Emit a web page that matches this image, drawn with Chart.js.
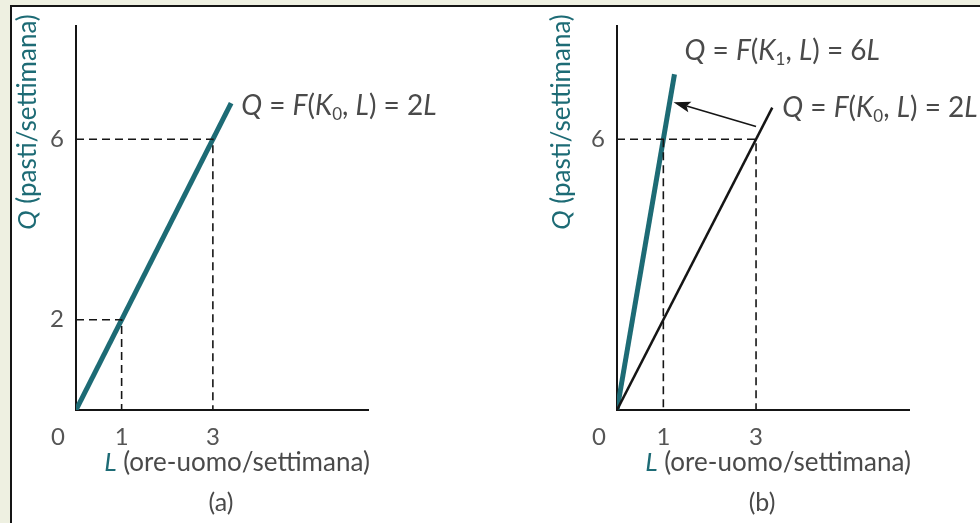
<!DOCTYPE html>
<html lang="it">
<head>
<meta charset="UTF-8">
<title>Funzione di produzione di breve periodo</title>
<script src="https://cdn.jsdelivr.net/npm/chart.js"></script>
<style>
  html, body { margin: 0; padding: 0; }
  body {
    width: 980px; height: 523px; overflow: hidden;
    background: #eef0e1; position: relative;
    font-family: Lato, sans-serif;
  }
  .frame {
    position: absolute; left: 10px; top: 5px;
    width: 1000px; height: 560px;
    background: #fff; border: 2px solid #151515;
  }
  .panel { position: absolute; top: 0; width: 490px; height: 523px; }
  #panelA { left: 0; }
  #panelB { left: 541px; }
</style>
</head>
<body>
<div class="frame"></div>
<div class="panel" id="panelA"><canvas id="chartA"></canvas></div>
<div class="panel" id="panelB"><canvas id="chartB"></canvas></div>

<script>
// --- dati ---
const xTicks = [1, 3];
const yTicksA = [2, 6];
const yTicksB = [6];

// pannello (a): Q = 2L
const curveA = [[0, 0], [3.4, 6.8]];
const dashA6 = [[0, 6], [3, 6], [3, 0]];
const dashA2 = [[0, 2], [1, 2], [1, 0]];

// pannello (b): Q = 6L e Q = 2L
const curveB1 = [[0, 0], [1.24, 7.44]];
const curveB0 = [[0, 0], [3.35, 6.7]];
const dashB6 = [[0, 6], [3, 6], [3, 0]];
const dashB1 = [[1, 6], [1, 0]];
const arrowB = [[3.0, 6.28], [1.22, 6.82]];

const TEAL = '#1d6b75';
const INK = '#151515';
const GRAY = '#4a4a4a';

function pts(arr) { return arr.map(p => ({ x: p[0], y: p[1] })); }

// testo con corsivi e pedici
function drawRich(ctx, x, y, parts, size, align) {
  const fontOf = p => (p.i ? 'italic ' : '') + (p.sub ? Math.round(size * 0.62) : size) + 'px Lato, sans-serif';
  let total = 0;
  parts.forEach(p => { ctx.font = fontOf(p); p.w = ctx.measureText(p.t).width; total += p.w; });
  let cx = align === 'center' ? x - total / 2 : align === 'right' ? x - total : x;
  ctx.textAlign = 'left';
  ctx.textBaseline = 'middle';
  parts.forEach(p => {
    ctx.font = fontOf(p);
    ctx.fillStyle = p.c || GRAY;
    ctx.fillText(p.t, cx, y + (p.sub ? size * 0.3 : 0));
    cx += p.w;
  });
}

function eq(k, n) {
  return [
    { t: 'Q', i: true }, { t: ' = ' }, { t: 'F', i: true }, { t: '(' },
    { t: 'K', i: true }, { t: k, sub: true }, { t: ', ' }, { t: 'L', i: true },
    { t: ') = ' + n }, { t: 'L', i: true }
  ];
}

function textPlugin(opts) {
  return {
    id: 'testi',
    afterDraw(chart) {
      const ctx = chart.ctx;
      const xs = chart.scales.x, ys = chart.scales.y;
      const a = chart.chartArea;
      ctx.save();
      // titolo asse y
      ctx.save();
      ctx.translate(a.left - opts.yTitleDx, 122);
      ctx.rotate(-Math.PI / 2);
      drawRich(ctx, 0, 0, [{ t: 'Q', i: true, c: TEAL }, { t: ' (pasti/settimana)', c: TEAL }], 26, 'center');
      ctx.restore();
      // "0" all'origine
      drawRich(ctx, a.left - 18, a.bottom + 27, [{ t: '0', c: '#555' }], 24, 'center');
      // titolo asse x
      const mid = (a.left + a.right) / 2;
      drawRich(ctx, mid + 15, a.bottom + 53,
        [{ t: 'L', i: true, c: TEAL }, { t: ' (ore-uomo/settimana)', c: GRAY }], 26, 'center');
      drawRich(ctx, mid - 1, a.bottom + 93, [{ t: opts.tag, c: GRAY }], 25, 'center');
      // etichette delle curve
      opts.labels.forEach(l => {
        const px = xs.getPixelForValue(l.at[0]) + l.dx;
        const py = ys.getPixelForValue(l.at[1]) + l.dy;
        drawRich(ctx, px, py, l.parts, 28, 'left');
      });
      // freccia
      if (opts.arrow) {
        const x0 = xs.getPixelForValue(opts.arrow[0][0]), y0 = ys.getPixelForValue(opts.arrow[0][1]);
        const x1 = xs.getPixelForValue(opts.arrow[1][0]), y1 = ys.getPixelForValue(opts.arrow[1][1]);
        const ang = Math.atan2(y1 - y0, x1 - x0);
        const hl = 17, hw = 5.5;
        ctx.strokeStyle = INK; ctx.fillStyle = INK; ctx.lineWidth = 1.6;
        ctx.beginPath();
        ctx.moveTo(x0, y0);
        ctx.lineTo(x1 - Math.cos(ang) * hl * 0.8, y1 - Math.sin(ang) * hl * 0.8);
        ctx.stroke();
        ctx.beginPath();
        ctx.moveTo(x1, y1);
        ctx.lineTo(x1 - Math.cos(ang) * hl - Math.sin(ang) * hw, y1 - Math.sin(ang) * hl + Math.cos(ang) * hw);
        ctx.lineTo(x1 - Math.cos(ang) * hl * 0.8, y1 - Math.sin(ang) * hl * 0.8);
        ctx.lineTo(x1 - Math.cos(ang) * hl + Math.sin(ang) * hw, y1 - Math.sin(ang) * hl - Math.cos(ang) * hw);
        ctx.closePath();
        ctx.fill();
      }
      ctx.restore();
    }
  };
}

function dashed(arr) {
  return { data: pts(arr), borderColor: INK, borderWidth: 1.6, borderDash: [8, 5], showLine: true, pointRadius: 0, borderCapStyle: 'butt' };
}
function curve(arr, color, w) {
  return { data: pts(arr), borderColor: color, borderWidth: w, showLine: true, pointRadius: 0, borderCapStyle: 'butt' };
}

function makeChart(id, datasets, xMax, yTicks, opts) {
  const tickFont = { family: 'Lato', size: 24 };
  return new Chart(document.getElementById(id), {
    type: 'scatter',
    data: { datasets: datasets },
    options: {
      responsive: true,
      maintainAspectRatio: false,
      animation: false,
      events: [],
      layout: { padding: { top: 18, right: 122, left: 0, bottom: 0 } },
      plugins: { legend: { display: false }, tooltip: { enabled: false } },
      elements: { line: { tension: 0 } },
      scales: {
        x: {
          type: 'linear', min: 0, max: xMax,
          grid: { display: false, drawTicks: false },
          border: { display: true, color: INK, width: 2 },
          ticks: { color: '#555', font: tickFont, padding: 13, maxRotation: 0, autoSkip: false },
          afterBuildTicks: s => { s.ticks = xTicks.map(v => ({ value: v })); },
          afterFit: s => { s.height = 113; }
        },
        y: {
          type: 'linear', min: 0, max: 8.5,
          grid: { display: false, drawTicks: false },
          border: { display: true, color: INK, width: 2 },
          ticks: { color: '#555', font: tickFont, padding: 12, autoSkip: false },
          afterBuildTicks: s => { s.ticks = yTicks.map(v => ({ value: v })); },
          afterFit: s => { s.width = 76; }
        }
      }
    },
    plugins: [textPlugin(opts)]
  });
}

makeChart('chartA',
  [dashed(dashA6), dashed(dashA2), curve(curveA, TEAL, 5)],
  6.4, yTicksA,
  { yTitleDx: 48, tag: '(a)',
    labels: [{ at: curveA[1], dx: 10, dy: 3, parts: eq('0', 2) }] });

makeChart('chartB',
  [dashed(dashB6), dashed(dashB1), curve(curveB0, INK, 2.5), curve(curveB1, TEAL, 5)],
  6.3, yTicksB,
  { yTitleDx: 55, tag: '(b)', arrow: arrowB,
    labels: [
      { at: curveB1[1], dx: 10, dy: -23, parts: eq('1', 6) },
      { at: curveB0[1], dx: 10, dy: 0, parts: eq('0', 2) }
    ] });
</script>
</body>
</html>
